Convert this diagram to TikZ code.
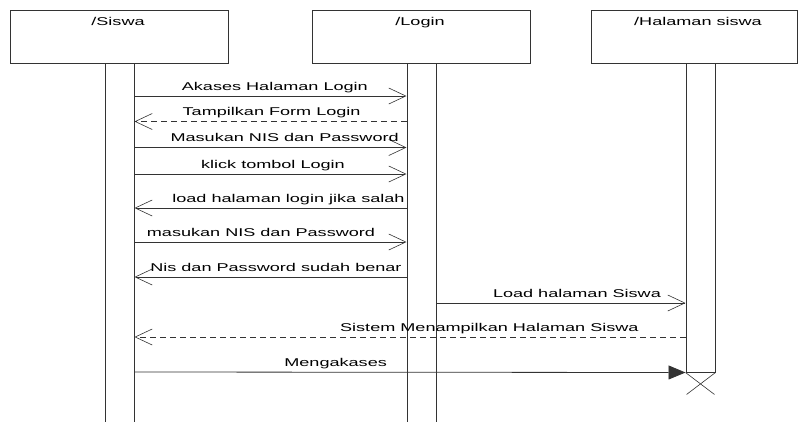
\documentclass[tikz,border=0pt]{standalone}
\usepackage{fontspec}
\setmainfont{Liberation Sans}[FakeStretch=1.6]
\usetikzlibrary{arrows.meta}
\tikzset{
  head/.style={draw=black!80, line width=1pt, minimum width=218pt, minimum height=53pt, inner sep=0pt},
  bar/.style={draw=black!80, fill=white, line width=1pt, minimum width=29pt, inner sep=0pt},
  msg/.style={draw=black!80, line width=0.8pt, -{Straight Barb[length=17pt,width=16pt,line width=0.6pt]}},
  reply/.style={msg, dash pattern=on 6pt off 4pt},
  sync/.style={draw=black!80, line width=0.8pt, -{Triangle[length=17pt,width=14pt]}},
  title/.style={anchor=base, inner sep=0pt, font=\fontsize{11.3}{13}\selectfont},
  txt/.style={title, yshift=6pt},
}
\begin{document}
\begin{tikzpicture}[x=1pt,y=-1pt]
  \useasboundingbox (0,0) rectangle (798,421);
  % lifelines
  \node[head] (siswa) at (119,36.5) {};
  \node[head] (login) at (421.5,36.5) {};
  \node[head, minimum width=206pt] (halaman) at (694,36.5) {};
  \node[title] (siswatxt) at (118,25) {/Siswa};
  \node[title] (logintxt) at (420,25) {/Login};
  \node[title] (halamantxt) at (698,25) {/Halaman siswa};
  \node[bar, minimum height=367pt] (sbar) at (119.5,246.5) {};
  \node[bar, minimum height=367pt] (lbar) at (421.5,246.5) {};
  \node[bar, minimum height=309pt] (hbar) at (700.5,217.5) {};
  \draw[black!80, line width=0.6pt] (hbar.south west) -- ++(29,22);
  \draw[black!80, line width=0.6pt] (hbar.south east) -- ++(-29,22);
  % messages
  \begin{scope}
    \draw[msg] (sbar.east |- 0,96) -- node[txt, pos=.516] {Akases Halaman Login} (lbar.west |- 0,96);
    \draw[reply] (lbar.west |- 0,121.5) -- node[txt, pos=.496] {Tampilkan Form Login} (sbar.east |- 0,121.5);
    \draw[msg] (sbar.east |- 0,147.5) -- node[txt, pos=.552] {Masukan NIS dan Password} (lbar.west |- 0,147.5);
    \draw[msg] (sbar.east |- 0,174) -- node[txt, pos=.509] {klick tombol Login} (lbar.west |- 0,174);
    \draw[msg] (lbar.west |- 0,208) -- node[txt, pos=.434] {load halaman login jika salah} (sbar.east |- 0,208);
    \draw[msg] (sbar.east |- 0,242) -- node[txt, pos=.465] {masukan NIS dan Password} (lbar.west |- 0,242);
    \draw[msg] (lbar.west |- 0,277) -- node[txt, pos=.48] {Nis dan Password sudah benar} (sbar.east |- 0,277);
    \draw[msg] (lbar.east |- 0,303) -- node[txt, pos=.564] {Load halaman Siswa} (hbar.west |- 0,303);
    \draw[reply] (hbar.west |- 0,337) -- node[txt, pos=.356] {Sistem Menampilkan Halaman Siswa} (sbar.east |- 0,337);
    \draw[sync] (sbar.east |- 0,372) -- node[txt, pos=.365] {Mengakases} (hbar.south west);
  \end{scope}
\end{tikzpicture}
\end{document}
